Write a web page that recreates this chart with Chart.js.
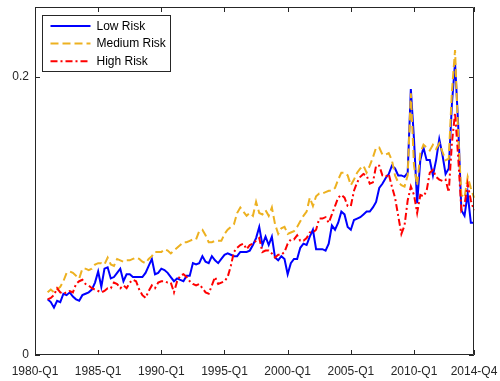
<!DOCTYPE html>
<html>
<head>
<meta charset="utf-8">
<script src="https://cdn.jsdelivr.net/npm/chart.js@4/dist/chart.umd.min.js"></script>
<style>
  html, body { margin: 0; padding: 0; background: #fff; }
  #wrap { width: 500px; height: 381px; }
</style>
</head>
<body>
<div id="wrap"><canvas id="c" width="500" height="381"></canvas></div>
<script>
// Quarterly axis: 1980-Q1 .. 2014-Q4
const firstYear = 1980;
const lastYear = 2014;
const quarters = [];
for (let yr = firstYear; yr <= lastYear; yr++) {
  for (let q = 1; q <= 4; q++) quarters.push(yr + '-Q' + q);
}

// Labelled ticks on the time axis
const xTickLabels = ['1980-Q1', '1985-Q1', '1990-Q1', '1995-Q1', '2000-Q1', '2005-Q1', '2010-Q1', '2014-Q4'];
const yTickValues = [0, 0.2];

// Series start in 1981-Q1
const seriesStart = '1981-Q1';

const lowRisk = [
  0.040, 0.038, 0.034, 0.039, 0.038, 0.044, 0.043, 0.045, 0.042, 0.040,
  0.039, 0.043, 0.044, 0.045, 0.047, 0.052, 0.060, 0.049, 0.062, 0.063,
  0.055, 0.056, 0.059, 0.062, 0.053, 0.058, 0.058, 0.056, 0.056, 0.056,
  0.056, 0.059, 0.064, 0.069, 0.058, 0.059, 0.062, 0.061, 0.059, 0.056,
  0.053, 0.055, 0.054, 0.053, 0.057, 0.057, 0.066, 0.065, 0.066, 0.071,
  0.067, 0.066, 0.071, 0.068, 0.066, 0.069, 0.072, 0.073, 0.072, 0.071,
  0.071, 0.074, 0.074, 0.074, 0.075, 0.079, 0.084, 0.092, 0.079, 0.085,
  0.079, 0.085, 0.070, 0.068, 0.071, 0.069, 0.058, 0.066, 0.069, 0.069,
  0.077, 0.080, 0.079, 0.085, 0.090, 0.076, 0.076, 0.076, 0.075, 0.080,
  0.093, 0.090, 0.095, 0.103, 0.101, 0.092, 0.090, 0.097, 0.098, 0.099,
  0.101, 0.103, 0.103, 0.106, 0.110, 0.120, 0.123, 0.127, 0.130, 0.136,
  0.134, 0.129, 0.129, 0.128, 0.131, 0.191, 0.155, 0.109, 0.140, 0.149,
  0.140, 0.140, 0.129, 0.140, 0.155, 0.144, 0.130, 0.134, 0.180, 0.210,
  0.165, 0.104, 0.100, 0.116, 0.095, 0.095
];

const mediumRisk = [
  0.045, 0.047, 0.045, 0.047, 0.049, 0.053, 0.059, 0.060, 0.059, 0.057,
  0.055, 0.062, 0.062, 0.061, 0.062, 0.065, 0.066, 0.066, 0.065, 0.070,
  0.065, 0.064, 0.069, 0.068, 0.067, 0.068, 0.068, 0.069, 0.070, 0.069,
  0.067, 0.066, 0.069, 0.071, 0.074, 0.074, 0.074, 0.076, 0.075, 0.073,
  0.075, 0.077, 0.079, 0.081, 0.081, 0.082, 0.083, 0.083, 0.089, 0.090,
  0.086, 0.081, 0.081, 0.082, 0.082, 0.082, 0.087, 0.090, 0.092, 0.094,
  0.102, 0.106, 0.103, 0.100, 0.102, 0.100, 0.110, 0.102, 0.101, 0.104,
  0.100, 0.106, 0.094, 0.087, 0.091, 0.092, 0.087, 0.088, 0.089, 0.092,
  0.096, 0.100, 0.103, 0.113, 0.107, 0.114, 0.116, 0.116, 0.117, 0.118,
  0.118, 0.120, 0.126, 0.131, 0.131, 0.129, 0.122, 0.126, 0.131, 0.134,
  0.136, 0.131, 0.136, 0.142, 0.149, 0.149, 0.144, 0.144, 0.145, 0.140,
  0.129, 0.124, 0.122, 0.121, 0.129, 0.188, 0.136, 0.122, 0.145, 0.151,
  0.149, 0.147, 0.151, 0.148, 0.152, 0.146, 0.140, 0.141, 0.189, 0.219,
  0.158, 0.115, 0.113, 0.128, 0.120, 0.113
];

const highRisk = [
  0.040, 0.041, 0.043, 0.048, 0.045, 0.044, 0.045, 0.046, 0.045, 0.051,
  0.053, 0.054, 0.051, 0.050, 0.048, 0.047, 0.046, 0.045, 0.046, 0.048,
  0.048, 0.052, 0.051, 0.048, 0.050, 0.048, 0.052, 0.054, 0.053, 0.047,
  0.043, 0.041, 0.046, 0.050, 0.048, 0.052, 0.053, 0.053, 0.052, 0.052,
  0.045, 0.053, 0.057, 0.058, 0.056, 0.053, 0.051, 0.050, 0.051, 0.048,
  0.045, 0.044, 0.050, 0.056, 0.051, 0.052, 0.053, 0.056, 0.064, 0.074,
  0.077, 0.079, 0.080, 0.076, 0.079, 0.080, 0.082, 0.084, 0.074, 0.075,
  0.075, 0.073, 0.070, 0.072, 0.072, 0.074, 0.080, 0.083, 0.083, 0.086,
  0.082, 0.082, 0.084, 0.088, 0.088, 0.090, 0.098, 0.098, 0.099, 0.095,
  0.101, 0.107, 0.113, 0.115, 0.113, 0.107, 0.107, 0.118, 0.124, 0.128,
  0.130, 0.129, 0.123, 0.124, 0.136, 0.136, 0.129, 0.128, 0.130, 0.121,
  0.113, 0.100, 0.087, 0.093, 0.111, 0.121, 0.115, 0.102, 0.115, 0.114,
  0.118, 0.131, 0.133, 0.128, 0.126, 0.125, 0.126, 0.117, 0.152, 0.174,
  0.142, 0.104, 0.108, 0.123, 0.111, 0.104
];

const seriesNames = ['Low Risk', 'Medium Risk', 'High Risk'];
const seriesColors = ['#0000FF', '#EDB120', '#FF0000'];

// Align each series to the quarterly axis
const lead = quarters.indexOf(seriesStart);
const pad = vals => Array(lead).fill(null).concat(vals);

const axisColor = '#262626';
const fontFamily = '"Liberation Sans", Arial, Helvetica, sans-serif';

// Box around the axes with inward-pointing tick marks, plus the boxed legend
const framePlugin = {
  id: 'frame',
  afterDatasetsDraw(chart) {
    const { ctx, chartArea: a, scales: { x, y } } = chart;
    const tl = 5;
    ctx.save();
    ctx.strokeStyle = axisColor;
    ctx.lineWidth = 1;
    ctx.setLineDash([]);
    ctx.beginPath();
    ctx.rect(Math.round(a.left) + 0.5, Math.round(a.top) + 0.5,
             Math.round(a.right - a.left) - 1, Math.round(a.bottom - a.top) - 1);
    ctx.stroke();
    ctx.beginPath();
    xTickLabels.forEach(lbl => {
      const px = Math.round(x.getPixelForValue(quarters.indexOf(lbl))) + 0.5;
      ctx.moveTo(px, a.bottom); ctx.lineTo(px, a.bottom - tl);
      ctx.moveTo(px, a.top); ctx.lineTo(px, a.top + tl);
    });
    yTickValues.forEach(v => {
      const py = Math.round(y.getPixelForValue(v)) + 0.5;
      ctx.moveTo(a.left, py); ctx.lineTo(a.left + tl, py);
      ctx.moveTo(a.right, py); ctx.lineTo(a.right - tl, py);
    });
    ctx.stroke();

    // legend
    const bx = Math.round(a.left) + 7.5, by = Math.round(a.top) + 8.5;
    const bw = 128, bh = 56;
    ctx.fillStyle = '#fff';
    ctx.fillRect(bx, by, bw, bh);
    ctx.strokeStyle = axisColor;
    ctx.strokeRect(bx, by, bw, bh);
    ctx.font = '12px ' + fontFamily;
    ctx.textBaseline = 'middle';
    ctx.textAlign = 'left';
    chart.data.datasets.forEach((ds, i) => {
      const ry = by + 10.5 + i * 17.6;
      ctx.beginPath();
      ctx.strokeStyle = ds.borderColor;
      ctx.lineWidth = ds.borderWidth;
      ctx.setLineDash(ds.borderDash || []);
      ctx.moveTo(bx + 8, ry);
      ctx.lineTo(bx + 48, ry);
      ctx.stroke();
      ctx.fillStyle = '#000';
      ctx.fillText(ds.label, bx + 54, ry + 0.5);
    });
    ctx.restore();
  }
};

new Chart(document.getElementById('c'), {
  type: 'line',
  data: {
    labels: quarters,
    datasets: [
      { label: seriesNames[0], data: pad(lowRisk), borderColor: seriesColors[0],
        borderWidth: 2, borderDash: [], order: 3 },
      { label: seriesNames[1], data: pad(mediumRisk), borderColor: seriesColors[1],
        borderWidth: 2, borderDash: [8, 4], order: 2 },
      { label: seriesNames[2], data: pad(highRisk), borderColor: seriesColors[2],
        borderWidth: 2, borderDash: [7, 3, 2, 3], order: 1 }
    ]
  },
  options: {
    responsive: false,
    devicePixelRatio: 1,
    animation: false,
    events: [],
    elements: { point: { radius: 0 }, line: { tension: 0, fill: false } },
    layout: { padding: { left: 0, right: 26, top: 7, bottom: 0 } },
    plugins: { legend: { display: false }, tooltip: { enabled: false } },
    scales: {
      x: {
        type: 'category',
        offset: false,
        border: { display: false },
        grid: { display: false, drawTicks: false },
        afterBuildTicks: s => {
          s.ticks = xTickLabels.map(l => ({ value: quarters.indexOf(l) }));
        },
        afterFit: s => {
          s.height = 26;
          s.paddingLeft = 0; s.paddingRight = 0;
        },
        ticks: {
          autoSkip: false, maxRotation: 0, minRotation: 0, padding: 9,
          color: axisColor, font: { family: fontFamily, size: 12 }
        }
      },
      y: {
        min: 0, max: 0.25,
        border: { display: false },
        grid: { display: false, drawTicks: false },
        afterBuildTicks: s => { s.ticks = yTickValues.map(v => ({ value: v })); },
        afterFit: s => {
          s.width = 35;
          s.paddingTop = 0; s.paddingBottom = 0;
        },
        ticks: {
          padding: 6, color: axisColor, font: { family: fontFamily, size: 12 },
          callback: v => String(v)
        }
      }
    }
  },
  plugins: [framePlugin]
});
</script>
</body>
</html>
